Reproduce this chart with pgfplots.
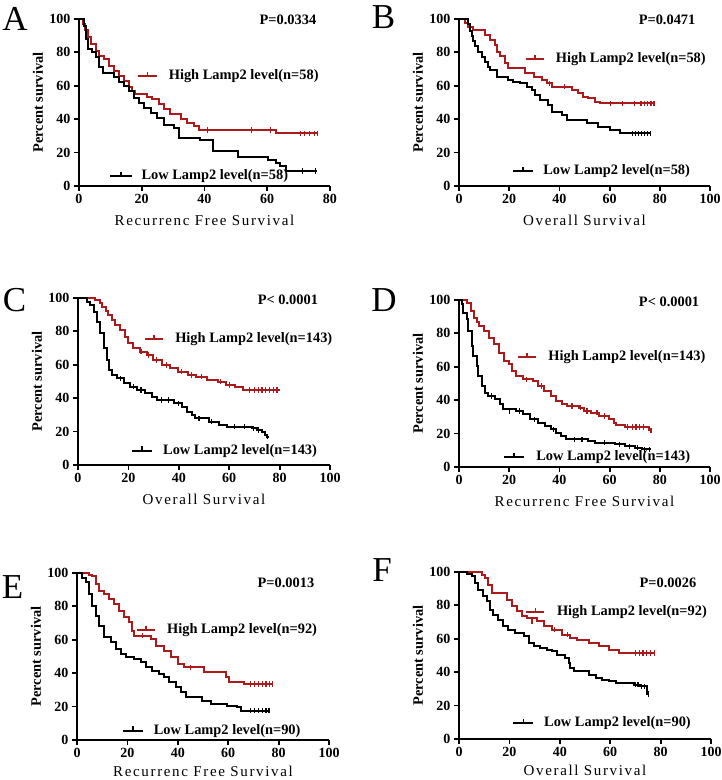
\documentclass[border=0pt]{standalone}
\usepackage{fontspec}
\setmainfont{Liberation Serif}
\usepackage{pgfplots}
\pgfplotsset{compat=1.18}
\definecolor{kmred}{RGB}{172,26,28}
\pgfplotsset{
  km/.style={
    scale only axis, width=251pt, height=167pt,
    xmin=0, xmax=100, ymin=0, ymax=100,
    axis x line*=bottom, axis y line*=left,
    axis line style={-, line width=2pt},
    xtick={0,20,...,100}, ytick={0,20,...,100},
    tick align=outside, major tick length=5pt,
    every tick/.style={line width=1.8pt, black},
    tick label style={font=\bfseries\fontsize{14}{14}\selectfont},
    /pgf/number format/assume math mode=true,
    ylabel={Percent survival},
    ylabel style={font=\bfseries\fontsize{14.4}{15}\selectfont, at={(axis description cs:-0.163,0.5)}, anchor=center},
    xlabel style={font=\fontsize{15}{15}\selectfont\addfontfeature{LetterSpace=11}, at={(axis description cs:0.5,-0.204)}, anchor=center},
    clip=false,
  },
  hi/.style={kmred, line width=2pt, const plot, no marks},
  lo/.style={black, line width=2pt, const plot, no marks},
  hic/.style={kmred, only marks, mark=|, mark size=2.6pt, mark options={line width=1.2pt}},
  loc/.style={black, only marks, mark=|, mark size=2.6pt, mark options={line width=1.2pt}},
  hil/.style={kmred, line width=2.2pt, no marks},
  lol/.style={black, line width=2.2pt, no marks},
}
\newcommand\lab[1]{\fontsize{14.4}{15}\selectfont\bfseries #1}
\begin{document}
\begin{tikzpicture}[x=1pt,y=1pt]
\useasboundingbox (0,0) rectangle (722,780);
\node[font=\fontsize{35}{35}\selectfont] at (15,761.5) {A};
\node[font=\fontsize{35}{35}\selectfont] at (383.5,762.5) {B};
\node[font=\fontsize{35}{35}\selectfont] at (14.5,480) {C};
\node[font=\fontsize{35}{35}\selectfont] at (384,480) {D};
\node[font=\fontsize{35}{35}\selectfont] at (12.5,192.5) {E};
\node[font=\fontsize{35}{35}\selectfont] at (382,210) {F};

% ---------------- A
\begin{axis}[km, at={(79pt,594pt)}, anchor=south west, xmax=80, xtick={0,20,...,80}, xlabel={Recurrenc Free Survival}]
\addplot[hi] coordinates {(0,100)(1.2,97)(2,93.4)(3,89)(3.8,85)(5.4,81)(6.4,78)(8,76)(9.6,72)(11.2,69)(12.8,66)(14.4,63)(16,59)(17,57)(18,55)(21.7,53.5)(23.3,52)(25.4,49)(27,46)(29.1,43)(32.4,40)(34.5,38)(36.7,36)(38.2,33.5)(62.8,31.5)(76,31.5)};
\addplot[hic] coordinates {(41,33.5)(55,33.5)(61,33.5)(70.5,31.5)(72,31.5)(73.5,31.5)(75,31.5)(76,31.5)};
\addplot[lo] coordinates {(0,100)(1.5,96)(2.2,88)(2.8,82)(4,80)(5.5,77)(6.5,71)(7.5,67.5)(11,65.5)(12.8,62.5)(14.4,59.6)(16,56.6)(17.6,52.6)(19.2,49.6)(20.8,46.6)(22.9,43.7)(25,40.7)(27.1,36.7)(30.3,34.5)(31.9,29)(38.5,27.6)(42.6,21)(50.6,17.6)(60.1,15.6)(62.8,14)(64,12)(66,9)(76,9)};
\addplot[loc] coordinates {(71.3,9)(75.5,9)};
\addplot[hil] coordinates {(18.8,65.9)(24.9,65.9)};
\addplot[hic] coordinates {(21.85,66.9)};
\addplot[lol] coordinates {(9.9,6)(16.9,6)};
\addplot[loc] coordinates {(13.4,7)};
\node[anchor=west] at (axis cs:27.5,65.9) {\lab{High Lamp2 level(n=58)}};
\node[anchor=west] at (axis cs:18.8,6) {\lab{Low Lamp2 level(n=58)}};
\node at (axis cs:66.6,99.4) {\lab{P=0.0334}};
\end{axis}

% ---------------- B
\begin{axis}[km, at={(459pt,594pt)}, anchor=south west, xlabel={Overall Survival}]
\addplot[hi] coordinates {(0,100)(2.2,97.4)(3.7,95.4)(5.7,93.4)(10.4,90.4)(12.4,87.4)(14.3,84.4)(15,80.4)(16.3,77.6)(18.3,73.5)(19.7,70.5)(26.3,67.5)(29.7,65.5)(33,63.5)(35,61.5)(37,59.5)(44.9,57.5)(47.5,55.5)(49.5,53.5)(51.5,52.5)(54.2,50.5)(56.2,49.5)(77.7,49.5)};
\addplot[hic] coordinates {(36,61.5)(42,59.5)(60.5,49.5)(65.2,49.5)(69.8,49.5)(72.5,49.5)(73.8,49.5)(75.2,49.5)(76.5,49.5)(77.7,49.5)};
\addplot[lo] coordinates {(0,100)(3.6,97)(4.2,93)(5,90)(5.7,87)(6.5,84)(7.5,80)(9,77)(10.5,74)(11.5,71)(12.4,69.5)(15,65.5)(19.7,63.5)(21.7,62.5)(24.3,61.5)(27,59.5)(29,57.5)(30.3,54.5)(32.3,51.5)(35.6,48.5)(36.9,44.5)(40.9,42.5)(42.9,39.5)(50.9,37.5)(55.5,35.5)(60.1,33.5)(64.1,31.5)(76.4,31.5)};
\addplot[loc] coordinates {(69,31.5)(70.3,31.5)(71.5,31.5)(72.7,31.5)(73.9,31.5)(75.1,31.5)(76.3,31.5)};
\addplot[hil] coordinates {(26.7,76)(33.9,76)};
\addplot[hic] coordinates {(30.3,77)};
\addplot[lol] coordinates {(21.5,9)(29.5,9)};
\addplot[loc] coordinates {(25.5,10)};
\node[anchor=west] at (axis cs:37.2,76) {\lab{High Lamp2 level(n=58)}};
\node[anchor=west] at (axis cs:32.2,9) {\lab{Low Lamp2 level(n=58)}};
\node at (axis cs:82.9,99.4) {\lab{P=0.0471}};
\end{axis}

% ---------------- C
\begin{axis}[km, at={(78pt,315pt)}, anchor=south west, width=252pt, xlabel={Overall Survival}]
\addplot[hi] coordinates {(0,100)(6.7,98.8)(8.7,97)(9.7,94.8)(11,92)(12,89.8)(13.3,86.8)(14.7,83.8)(16.7,80.8)(18.7,76.8)(20,72.9)(22,69.9)(24.6,67.8)(27.2,65.9)(29.9,62.9)(33.2,59.9)(36.5,57.9)(39.8,55.9)(43.7,53.9)(47,52.9)(51,50.9)(55.6,49.9)(58.9,47.9)(62.2,46.9)(65.5,44.9)(80.2,44.9)};
\addplot[hic] coordinates {(25,67.8)(28,65.9)(31,62.9)(35,59.9)(41,55.9)(45,53.9)(49,52.9)(56.5,49.9)(60,47.9)(68,44.9)(70,44.9)(71.5,44.9)(73,44.9)(74.5,44.9)(76,44.9)(77.5,44.9)(79,44.9)};
\addplot[lo] coordinates {(0,100)(3.4,97.5)(4.8,95.8)(6.2,91.8)(7.5,85.8)(8.9,78.8)(10.2,69.9)(11.5,62.9)(12.2,56.9)(13.5,53.9)(15.5,51.9)(18.1,48.9)(20.8,46.9)(23.4,44.9)(26.7,42.9)(29.4,40.9)(31.3,38.9)(37.9,36.9)(41.3,34.9)(43.3,31.9)(45.2,29.9)(46.5,27.9)(51.9,25.9)(55.8,23.9)(59.1,22.9)(69,21.9)(71,20.9)(73,19.9)(74.3,17.9)(75,16.9)(75.6,16.9)};
\addplot[loc] coordinates {(17,51.9)(22,46.9)(25,44.9)(33,38.9)(36,38.9)(40,36.9)(48,27.9)(53,25.9)(62,22.9)(66,22.9)(69.5,21.9)(71.5,20.9)(75.3,16.9)};
\addplot[hil] coordinates {(26.6,75.4)(33.7,75.4)};
\addplot[hic] coordinates {(30.15,76.4)};
\addplot[lol] coordinates {(21.4,8.6)(29.4,8.6)};
\addplot[loc] coordinates {(25.4,9.6)};
\node[anchor=west] at (axis cs:37.2,75.4) {\lab{High Lamp2 level(n=143)}};
\node[anchor=west] at (axis cs:32.4,8.6) {\lab{Low Lamp2 level(n=143)}};
\node at (axis cs:83.3,98.8) {\lab{P< 0.0001}};
\end{axis}

% ---------------- D
\begin{axis}[km, at={(459pt,313pt)}, anchor=south west, xlabel={Recurrenc Free Survival}]
\addplot[hi] coordinates {(0,100)(3.3,98.4)(4.6,93.4)(6,89.4)(7,86.9)(8,84.4)(10,81.4)(12,77.4)(14,73.5)(16,68.5)(18,63.5)(20,61.5)(21.3,57.5)(22.7,54.5)(25.3,52.5)(29.3,51.5)(31.3,48.5)(34,45.5)(36.7,42.5)(38.6,39.5)(41.2,37.5)(43.2,36.5)(47.8,35.5)(49.8,33.5)(52.6,32.5)(55.8,30.5)(59.8,28.5)(61.8,26.5)(62.5,25)(66,24)(75.5,22)(77,22)};
\addplot[hic] coordinates {(27,52.5)(33,48.5)(45,36.5)(48.5,35.5)(51,33.5)(55,32.5)(58,30.5)(67,24)(69,24)(70.5,24)(72,24)(73.5,24)(76.5,22)};
\addplot[lo] coordinates {(0,100)(1.1,97.4)(1.7,92.4)(3,88.4)(3.7,81.4)(5,72.4)(5.7,66.4)(7,60.4)(7.6,54.5)(9,48.5)(10.2,44.5)(11.6,42.5)(14.3,40.5)(16.3,37.5)(17.5,34.5)(22.9,33.5)(25.5,31.5)(28.2,28.5)(31.5,26.5)(34.2,24.5)(36.8,22.5)(38.8,20.5)(40.8,18.5)(42.8,16.5)(51.4,15.5)(54.1,14.5)(62.1,13.5)(66.1,12.5)(70.1,11.5)(72.8,10.5)(76.4,10.5)};
\addplot[loc] coordinates {(13,42.5)(20,33.5)(24,33.5)(30,28.5)(37.5,22.5)(46,16.5)(49,16.5)(58,14.5)(64,13.5)(68,12.5)(71,11.5)(74,10.5)(76,10.5)};
\addplot[hil] coordinates {(23.5,66)(30.7,66)};
\addplot[hic] coordinates {(27.1,67)};
\addplot[lol] coordinates {(17.9,6)(25.9,6)};
\addplot[loc] coordinates {(21.9,7)};
\node[anchor=west] at (axis cs:34.2,66) {\lab{High Lamp2 level(n=143)}};
\node[anchor=west] at (axis cs:29.4,6) {\lab{Low Lamp2 level(n=143)}};
\node at (axis cs:83.7,99) {\lab{P< 0.0001}};
\end{axis}

% ---------------- E
\begin{axis}[km, at={(77pt,40pt)}, anchor=south west, width=252pt, xlabel={Recurrenc Free Survival}, xlabel style={at={(axis description cs:0.5,-0.186)}}]
\addplot[hi] coordinates {(0,100)(4.8,99)(6.1,98.4)(7.5,93.4)(8.7,89.4)(10.7,87.4)(12.7,84.4)(14.7,81.4)(16.7,77.4)(18.7,73.5)(20.6,70.5)(22,65.5)(22.6,62.5)(29.2,60.5)(31.2,56.5)(34.5,53.5)(37.2,49.5)(39.9,45.5)(42.5,43.5)(50.4,40.5)(59,37.5)(60.3,34.5)(66.3,33.5)(77.5,33.5)};
\addplot[hic] coordinates {(26,62.5)(45,43.5)(69,33.5)(70.5,33.5)(72,33.5)(73.5,33.5)(75,33.5)(76.5,33.5)(77.5,33.5)};
\addplot[lo] coordinates {(0,100)(2.1,97)(3.4,94.4)(4.8,87.4)(6.1,80.4)(7.5,74.4)(8.7,68.4)(10.7,61.5)(13.4,58.5)(15.3,54.5)(17.3,51.5)(19.3,49.5)(22.6,48.5)(25.3,46.5)(27.2,43.5)(29.9,41.5)(32.5,39.5)(34.5,37.5)(36.5,34.5)(39.2,31.5)(41.1,28.5)(43.1,25.6)(49.7,23.5)(53,21.6)(59.6,20.6)(63.5,19.6)(64.9,17.6)(76.2,17.6)};
\addplot[loc] coordinates {(69,17.6)(70.5,17.6)(72,17.6)(73.5,17.6)(75,17.6)(76.2,17.6)};
\addplot[hil] coordinates {(23.8,65.9)(30.9,65.9)};
\addplot[hic] coordinates {(27.35,66.9)};
\addplot[lol] coordinates {(18.3,5.6)(26.2,5.6)};
\addplot[loc] coordinates {(22.25,6.6)};
\node[anchor=west] at (axis cs:34.4,65.9) {\lab{High Lamp2 level(n=92)}};
\node[anchor=west] at (axis cs:29.1,5.6) {\lab{Low Lamp2 level(n=90)}};
\node at (axis cs:82.9,94) {\lab{P=0.0013}};
\end{axis}

% ---------------- F
\begin{axis}[km, at={(459pt,41pt)}, anchor=south west, width=252pt, xlabel={Overall Survival}, xlabel style={at={(axis description cs:0.5,-0.186)}}]
\addplot[hi] coordinates {(0,100)(9,98.5)(10.3,96.4)(11.6,92.4)(13,87.4)(19,83.4)(21,79.5)(23,76.5)(25,73.5)(27,72.5)(31,70.5)(33.6,67.5)(36.9,65.5)(40.9,62.5)(44.2,60.5)(46.9,59.5)(51.5,57.5)(55.5,55.5)(59.5,53.5)(63.5,51.5)(77.5,51.5)};
\addplot[hic] coordinates {(29,70.5)(38,65.5)(43,62.5)(70,51.5)(71.5,51.5)(73,51.5)(74.5,51.5)(76,51.5)(77.5,51.5)};
\addplot[lo] coordinates {(0,100)(3,99)(5,97.4)(6.3,93.4)(7.7,89.4)(9.7,85.4)(11,82.4)(12.3,77.4)(13.6,74.4)(15.6,71.5)(17.6,67.5)(19.6,65.5)(22.3,63.5)(25.6,61.5)(27.6,57.5)(29.6,55.5)(32.2,54.5)(34.9,53.5)(36.9,52.5)(39,50.5)(42.2,48.5)(43.5,45.5)(44.2,42.5)(45.5,40.5)(51.5,38.5)(54.2,36.5)(56.8,35.5)(59.5,34.5)(62.2,33.5)(69.4,32.5)(72,31.5)(74.8,27)(75.5,27)};
\addplot[loc] coordinates {(70,32.5)(71,32.5)(72.5,31.5)(73.5,31.5)(75.3,27)};
\addplot[hil] coordinates {(26.7,76)(33.9,76)};
\addplot[hic] coordinates {(30.3,77)};
\addplot[lol] coordinates {(21.5,9.6)(29.5,9.6)};
\addplot[loc] coordinates {(25.5,10.6)};
\node[anchor=west] at (axis cs:37.5,76) {\lab{High Lamp2 level(n=92)}};
\node[anchor=west] at (axis cs:32.4,9.6) {\lab{Low Lamp2 level(n=90)}};
\node at (axis cs:82.9,93.4) {\lab{P=0.0026}};
\end{axis}
\end{tikzpicture}
\end{document}
